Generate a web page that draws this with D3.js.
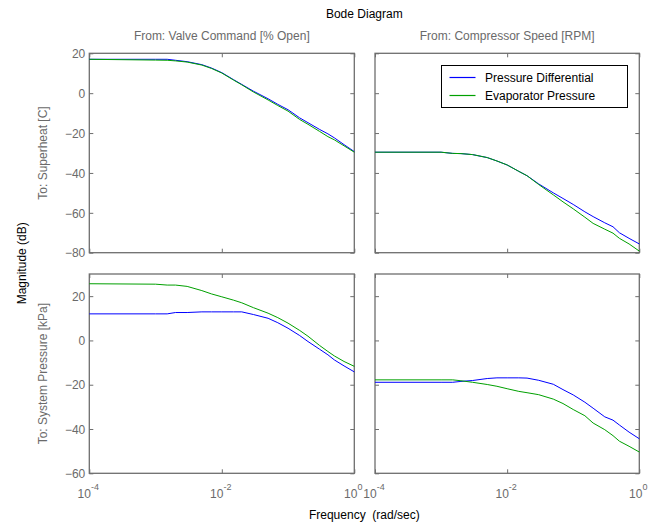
<!DOCTYPE html>
<html>
<head>
<meta charset="utf-8">
<script src="https://cdn.jsdelivr.net/npm/d3@7"></script>
<style>
  body { margin: 0; background: #fff; }
  svg { font-family: "Liberation Sans", Arial, sans-serif; }
</style>
</head>
<body>
<div id="chart"></div>
<script>
// frequency grid (rad/sec) shared by all curves
const freq = [0.0001, 0.001, 0.0015, 0.002, 0.003, 0.005, 0.007, 0.01, 0.015, 0.02, 0.03,
              0.05, 0.07, 0.1, 0.15, 0.2, 0.3, 0.4, 0.5, 0.7, 1];

// From: Valve Command -> To: Superheat
const valveSuperheatPD = [17.0, 17.0, 17.0, 16.5, 15.8, 14.3, 12.6, 10.3, 6.8, 4.4, 1.0,
                          -2.8, -5.6, -8.3, -12.4, -14.8, -18.2, -20.4, -22.4, -25.8, -29.3];
const valveSuperheatEP = [17.0, 16.6, 16.5, 16.2, 15.6, 14.1, 12.4, 10.1, 6.6, 4.2, 0.6,
                          -3.4, -6.2, -9.0, -13.2, -15.6, -19.2, -21.8, -23.4, -26.4, -29.6];
// From: Compressor Speed -> To: Superheat
const compSuperheatPD = [-29.6, -29.6, -30.2, -30.3, -30.8, -32.3, -34.0, -36.0, -39.2, -41.4, -45.5,
                         -50.0, -52.8, -55.8, -59.5, -61.9, -65.0, -67.0, -70.0, -72.8, -75.6];
const compSuperheatEP = [-29.6, -29.6, -30.2, -30.3, -30.8, -32.3, -34.0, -36.0, -39.2, -41.4, -45.8,
                         -51.0, -54.5, -58.0, -62.2, -65.3, -68.2, -70.2, -72.8, -75.6, -79.2];
// From: Valve Command -> To: System Pressure
const valvePressurePD = [12.0, 12.0, 12.0, 12.6, 12.6, 12.9, 12.9, 12.9, 12.9, 12.9, 11.7,
                         10.0, 8.0, 5.5, 2.2, -0.5, -4.0, -6.5, -8.8, -11.5, -14.2];
const valvePressureEP = [25.6, 25.4, 25.0, 25.0, 24.4, 22.5, 21.0, 19.7, 18.2, 17.0, 14.8,
                         12.3, 10.3, 7.8, 4.5, 1.9, -2.3, -5.0, -7.0, -9.5, -11.7];
// From: Compressor Speed -> To: System Pressure
const compPressurePD = [-18.9, -18.9, -18.9, -18.5, -18.1, -17.2, -16.9, -16.9, -16.9, -17.0, -18.0,
                        -19.8, -22.2, -24.6, -27.9, -30.6, -34.5, -36.0, -38.2, -41.4, -44.4];
const compPressureEP = [-17.8, -17.8, -17.8, -18.2, -18.9, -19.9, -20.7, -21.8, -23.0, -23.6, -24.5,
                        -26.5, -28.5, -31.2, -34.0, -37.3, -40.3, -43.0, -45.5, -47.8, -50.4];

const inputs = ["From: Valve Command [% Open]", "From: Compressor Speed [RPM]"];
const outputs = ["To: Superheat [C]", "To: System Pressure [kPa]"];
const seriesNames = ["Pressure Differential", "Evaporator Pressure"];
const seriesColors = ["#0000ff", "#00a000"];

const xTicks = [1e-4, 1e-2, 1];
const xTickExp = ["-4", "-2", "0"];
const yDomains = [[-80, 20], [-60, 30]];
const yTicks = [[-80, -60, -40, -20, 0, 20], [-60, -40, -20, 0, 20]];

const panels = [
  {row: 0, col: 0, data: [valveSuperheatPD, valveSuperheatEP]},
  {row: 0, col: 1, data: [compSuperheatPD, compSuperheatEP]},
  {row: 1, col: 0, data: [valvePressurePD, valvePressureEP]},
  {row: 1, col: 1, data: [compPressurePD, compPressureEP]}
];

const width = 661, height = 525;
const colX = [[89.3, 354.3], [375, 639.3]];
const rowY = [[53.3, 252.7], [274, 473.3]];
const axisGray = "#6e6e6e";
const textGray = "#6a6a6a";

const svg = d3.select("#chart").append("svg")
  .attr("width", width)
  .attr("height", height);

// titles
svg.append("text")
  .attr("x", 364.3).attr("y", 18)
  .attr("text-anchor", "middle")
  .attr("font-size", 12)
  .text("Bode Diagram");

svg.append("text")
  .attr("x", 364.3).attr("y", 519)
  .attr("text-anchor", "middle")
  .attr("font-size", 12)
  .style("white-space", "pre")
  .text("Frequency  (rad/sec)");

svg.append("text")
  .attr("transform", "translate(26,263.3) rotate(-90)")
  .attr("text-anchor", "middle")
  .attr("font-size", 12)
  .text("Magnitude (dB)");

inputs.forEach((t, i) => {
  svg.append("text")
    .attr("x", (colX[i][0] + colX[i][1]) / 2).attr("y", 39.5)
    .attr("text-anchor", "middle")
    .attr("font-size", 12)
    .attr("fill", textGray)
    .text(t);
});

outputs.forEach((t, i) => {
  svg.append("text")
    .attr("transform", `translate(47,${(rowY[i][0] + rowY[i][1]) / 2}) rotate(-90)`)
    .attr("text-anchor", "middle")
    .attr("font-size", 12)
    .attr("fill", textGray)
    .text(t);
});

panels.forEach(p => {
  const x = d3.scaleLog().domain([1e-4, 1]).range(colX[p.col]);
  const y = d3.scaleLinear().domain(yDomains[p.row]).range([rowY[p.row][1], rowY[p.row][0]]);
  const g = svg.append("g");

  // box
  g.append("rect")
    .attr("x", colX[p.col][0]).attr("y", rowY[p.row][0])
    .attr("width", colX[p.col][1] - colX[p.col][0])
    .attr("height", rowY[p.row][1] - rowY[p.row][0])
    .attr("fill", "none")
    .attr("stroke", axisGray)
    .attr("stroke-width", 1.3);

  // inward ticks
  const left = g.append("g").attr("transform", `translate(${colX[p.col][0]},0)`)
    .call(d3.axisLeft(y).tickValues(yTicks[p.row]).tickSize(-4).tickFormat(p.col === 0 ? d3.format("d") : ""));
  const right = g.append("g").attr("transform", `translate(${colX[p.col][1]},0)`)
    .call(d3.axisRight(y).tickValues(yTicks[p.row]).tickSize(-4).tickFormat(""));
  const top = g.append("g").attr("transform", `translate(0,${rowY[p.row][0]})`)
    .call(d3.axisTop(x).tickValues(xTicks).tickSize(-4).tickFormat(""));
  const bottom = g.append("g").attr("transform", `translate(0,${rowY[p.row][1]})`)
    .call(d3.axisBottom(x).tickValues(xTicks).tickSize(-4).tickFormat(""));

  [left, right, top, bottom].forEach(a => {
    a.select(".domain").remove();
    a.selectAll(".tick line").attr("stroke", axisGray);
    a.selectAll(".tick text")
      .attr("fill", textGray)
      .attr("font-size", 12)
      .attr("font-family", "Liberation Sans, Arial, sans-serif");
  });
  left.selectAll(".tick text").attr("x", -4).attr("dy", "0.35em");

  // x tick labels with superscript on the bottom row
  if (p.row === 1) {
    const lab = g.selectAll(".xlab").data(xTicks).enter().append("text")
      .attr("class", "xlab")
      .attr("x", d => x(d) - 1)
      .attr("y", 498)
      .attr("text-anchor", "middle")
      .attr("fill", textGray)
      .attr("font-size", 12);
    lab.append("tspan").text("10");
    lab.append("tspan")
      .attr("dy", -8)
      .attr("font-size", 9)
      .text((d, i) => xTickExp[i]);
  }

  // curves
  const line = d3.line()
    .x((d, i) => x(freq[i]))
    .y(d => y(d));

  p.data.forEach((s, k) => {
    g.append("path")
      .datum(s)
      .attr("d", line)
      .attr("fill", "none")
      .attr("stroke", seriesColors[k])
      .attr("stroke-width", 1);
  });
});

// legend in upper right panel
const leg = svg.append("g").attr("transform", "translate(441.5,65.5)");
leg.append("rect")
  .attr("width", 186).attr("height", 42)
  .attr("fill", "#fff")
  .attr("stroke", "#000")
  .attr("stroke-width", 1);
seriesNames.forEach((n, k) => {
  const yy = 12 + k * 18;
  leg.append("path")
    .attr("d", `M8,${yy}H34`)
    .attr("fill", "none")
    .style("stroke", seriesColors[k])
    .style("stroke-width", 1.2);
  leg.append("text")
    .attr("x", 43.5).attr("y", yy)
    .attr("dy", "0.36em")
    .attr("font-size", 12)
    .text(n);
});
</script>
</body>
</html>
